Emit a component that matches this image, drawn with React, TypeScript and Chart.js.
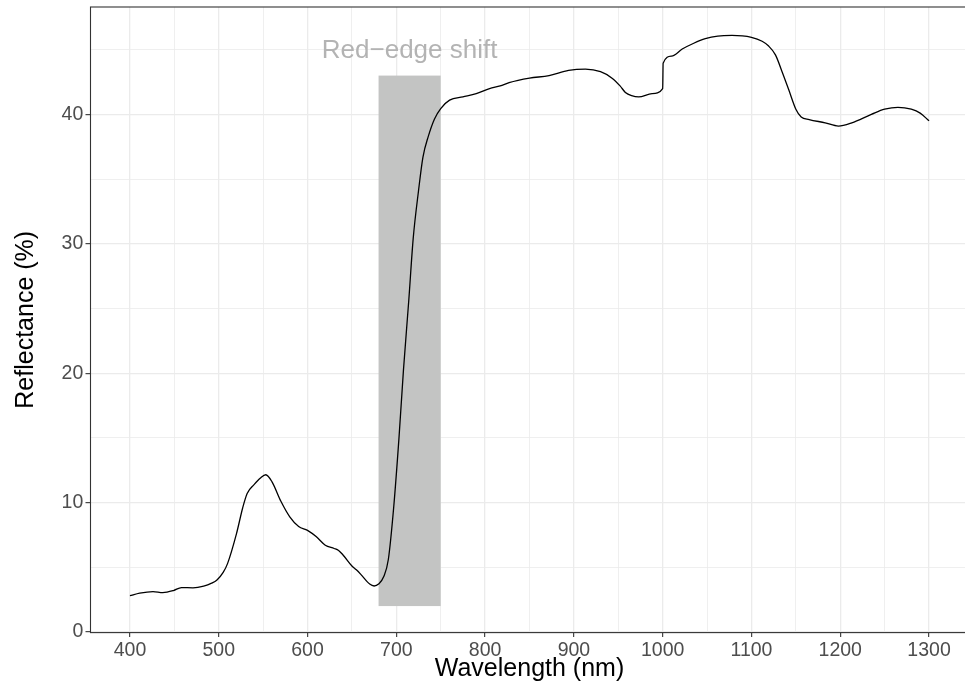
import React, { useEffect, useRef } from "react";
import { Chart, registerables } from "chart.js";

Chart.register(...registerables);

// Spectral reflectance curve (wavelength in nm, reflectance in %)
const WAVELENGTH = [
  400, 411, 426, 437, 449, 458, 471, 483, 492, 498, 505, 510, 520, 527, 532, 540, 547, 553, 560, 570,
  580, 590, 600, 610, 620, 630, 635, 640, 650, 655, 660, 670, 675, 680, 686, 691, 697, 703, 708, 714,
  719, 725, 730, 736, 743, 750, 760, 775, 790, 805, 817, 827, 850, 872, 894, 913, 930, 943, 952, 958,
  965, 973, 988, 1000, 1000.5, 1010, 1022, 1035, 1048, 1062, 1078, 1100, 1112, 1119, 1127, 1135, 1142, 1150, 1156, 1165,
  1183, 1198, 1213, 1235, 1250, 1265, 1280, 1290, 1300,
];
const REFLECTANCE = [
  2.8, 3.0, 3.12, 3.04, 3.2, 3.43, 3.41, 3.54, 3.77, 4.02, 4.6, 5.3, 7.6, 9.6, 10.7, 11.4, 11.9, 12.15, 11.6, 10.1,
  8.9, 8.15, 7.85, 7.35, 6.7, 6.45, 6.3, 5.95, 5.1, 4.8, 4.45, 3.7, 3.55, 3.7, 4.3, 5.6, 9.6, 15.0, 20.2, 25.6,
  30.4, 34.1, 36.7, 38.3, 39.65, 40.45, 41.1, 41.35, 41.6, 42.0, 42.2, 42.45, 42.8, 43.0, 43.4, 43.5, 43.3, 42.8, 42.2, 41.7,
  41.45, 41.35, 41.6, 42.0, 43.95, 44.5, 45.05, 45.5, 45.85, 46.05, 46.1, 45.95, 45.65, 45.3, 44.6, 43.2, 41.9, 40.4, 39.8, 39.6,
  39.35, 39.1, 39.35, 40.0, 40.4, 40.55, 40.4, 40.1, 39.5,
];

// Highlighted red-edge region
const SHIFT_WAVELENGTH = [680, 750];
const SHIFT_REFLECTANCE = [2, 43];
const SHIFT_LABEL = "Red\u2212edge shift";
const SHIFT_LABEL_POS = [715, 45];

const X_GRID = [400, 450, 500, 550, 600, 650, 700, 750, 800, 850, 900, 950, 1000, 1050, 1100, 1150, 1200, 1250, 1300];
const Y_GRID = [0, 5, 10, 15, 20, 25, 30, 35, 40, 45];
const X_TITLE = "Wavelength (nm)";
const Y_TITLE = "Reflectance (%)";

const FONT = "'Liberation Sans', Arial, Helvetica, sans-serif";

const overlay = {
  id: "overlay",
  beforeDatasetsDraw(chart: any) {
    const { ctx, scales } = chart;
    const x = scales.x, y = scales.y;
    const x0 = x.getPixelForValue(SHIFT_WAVELENGTH[0]);
    const x1 = x.getPixelForValue(SHIFT_WAVELENGTH[1]);
    const y0 = y.getPixelForValue(SHIFT_REFLECTANCE[0]);
    const y1 = y.getPixelForValue(SHIFT_REFLECTANCE[1]);
    ctx.save();
    ctx.fillStyle = "rgb(195,196,195)";
    ctx.fillRect(x0, y1, x1 - x0, y0 - y1);
    ctx.restore();
  },
  afterDatasetsDraw(chart: any) {
    const { ctx, scales } = chart;
    const px = scales.x.getPixelForValue(SHIFT_LABEL_POS[0]);
    const py = scales.y.getPixelForValue(SHIFT_LABEL_POS[1]);
    ctx.save();
    ctx.fillStyle = "#b3b3b3";
    ctx.font = `26px ${FONT}`;
    ctx.textAlign = "center";
    ctx.textBaseline = "alphabetic";
    ctx.fillText(SHIFT_LABEL, px, py + 8.5);
    ctx.restore();
  },
  afterDraw(chart: any) {
    const { ctx, chartArea } = chart;
    const { left, right, top, bottom } = chartArea;
    ctx.save();
    ctx.strokeStyle = "#333333";
    ctx.lineWidth = 1.1;
    ctx.strokeRect(left + 0.5, top, right - left - 1, bottom - top);
    ctx.fillStyle = "#000000";
    ctx.font = `25px ${FONT}`;
    ctx.textAlign = "center";
    ctx.textBaseline = "alphabetic";
    ctx.fillText(X_TITLE, (left + right) / 2, 676);
    ctx.translate(32.5, (top + bottom) / 2);
    ctx.rotate(-Math.PI / 2);
    ctx.fillText(Y_TITLE, 0, 0);
    ctx.restore();
  },
};

export default function App() {
  const ref = useRef<HTMLCanvasElement>(null);
  useEffect(() => {
    if (!ref.current) return;
    const points = WAVELENGTH.map((w, i) => ({ x: w, y: REFLECTANCE[i] }));
    const chart = new Chart(ref.current, {
      type: "line",
      data: {
        datasets: [
          {
            data: points,
            borderColor: "#000000",
            borderWidth: 1.3,
            pointRadius: 0,
            fill: false,
            cubicInterpolationMode: "monotone",
          },
        ],
      },
      options: {
        animation: false,
        responsive: false,
        devicePixelRatio: 1,
        layout: { padding: { top: 7, left: 0, right: 0, bottom: 0 } },
        plugins: { legend: { display: false }, tooltip: { enabled: false } },
        scales: {
          x: {
            type: "linear",
            min: 355,
            max: 1345,
            border: { display: false },
            afterBuildTicks: (s: any) => {
              s.ticks = X_GRID.map((v) => ({ value: v }));
            },
            afterFit: (s: any) => {
              s.height = 52.4;
              s.paddingLeft = 0;
              s.paddingRight = 0;
            },
            grid: {
              color: "#ebebeb",
              lineWidth: (c: any) => (c.tick && c.tick.value % 100 === 0 ? 1.3 : 0.8),
              tickLength: 4.5,
              tickColor: (c: any) => (c.tick && c.tick.value % 100 === 0 ? "#333333" : "rgba(0,0,0,0)"),
              tickWidth: 1.1,
            },
            ticks: {
              autoSkip: false,
              maxRotation: 0,
              padding: 2,
              color: "#4d4d4d",
              font: { family: FONT, size: 19.5 },
              callback: (v: any) => (Number(v) % 100 === 0 ? String(v) : ""),
            },
          },
          y: {
            type: "linear",
            min: -0.05,
            max: 48.3,
            border: { display: false },
            afterBuildTicks: (s: any) => {
              s.ticks = Y_GRID.map((v) => ({ value: v }));
            },
            afterFit: (s: any) => {
              s.width = 90;
              s.paddingTop = 0;
              s.paddingBottom = 0;
            },
            grid: {
              color: "#ebebeb",
              lineWidth: (c: any) => (c.tick && c.tick.value % 10 === 0 ? 1.3 : 0.8),
              tickLength: 4.5,
              tickColor: (c: any) => (c.tick && c.tick.value % 10 === 0 ? "#333333" : "rgba(0,0,0,0)"),
              tickWidth: 1.1,
            },
            ticks: {
              autoSkip: false,
              padding: 2.2,
              color: "#4d4d4d",
              font: { family: FONT, size: 19.5 },
              callback: (v: any) => (Number(v) % 10 === 0 ? String(v) : ""),
            },
          },
        },
      },
      plugins: [overlay],
    } as any);
    return () => chart.destroy();
  }, []);
  return (
    <div
      style={{
        position: "absolute",
        left: 0,
        top: 0,
        width: 965,
        height: 685,
        overflow: "hidden",
        background: "#ffffff",
      }}
    >
      <canvas ref={ref} width={969} height={685} style={{ display: "block" }} />
    </div>
  );
}
